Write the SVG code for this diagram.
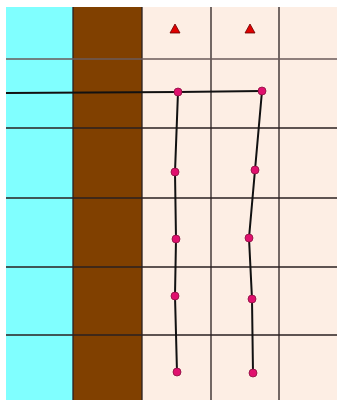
<svg xmlns="http://www.w3.org/2000/svg" width="337" height="400" viewBox="0 0 337 400">
<style>
.g{stroke:#2a2020;stroke-width:1.3;fill:none}
.g2{stroke:#6a5a5a;stroke-width:1.5;fill:none}
.p{stroke:#111;stroke-width:2;fill:none}
.d{fill:#e0106e;stroke:#8a1040;stroke-width:0.8}
.t{fill:#e00000;stroke:#600;stroke-width:0.8}
</style>
<rect x="0" y="0" width="337" height="400" fill="#fff"/>
<rect x="6" y="7" width="67" height="393" fill="#80ffff"/>
<rect x="73" y="7" width="69" height="393" fill="#804000"/>
<rect x="142" y="7" width="195" height="393" fill="#fdeee4"/>
<g id="grid">
<path class="g" d="M73 7V400M142 7V400M211 7V400M279 7V400"/>
<path class="g2" d="M6 59H337"/>
<path class="g" d="M6 128H337M6 198H337M6 267H337M6 335H337"/>
</g>
<g id="connectors">
<polyline class="p" points="6,93 178,92 262,91"/>
<polyline class="p" points="178,92 175,172 176,239 175,296 177,372"/>
<polyline class="p" points="262,91 255,170 249,238 252,299 253,373"/>
</g>
<g id="markers">
<polygon class="t" points="175,24 170,33 180,33"/>
<polygon class="t" points="250,24 245,33 255,33"/>
</g>
<g id="points">
<circle class="d" cx="178" cy="92" r="4"/>
<circle class="d" cx="175" cy="172" r="4"/>
<circle class="d" cx="176" cy="239" r="4"/>
<circle class="d" cx="175" cy="296" r="4"/>
<circle class="d" cx="177" cy="372" r="4"/>
<circle class="d" cx="262" cy="91" r="4"/>
<circle class="d" cx="255" cy="170" r="4"/>
<circle class="d" cx="249" cy="238" r="4"/>
<circle class="d" cx="252" cy="299" r="4"/>
<circle class="d" cx="253" cy="373" r="4"/>
</g>
</svg>
